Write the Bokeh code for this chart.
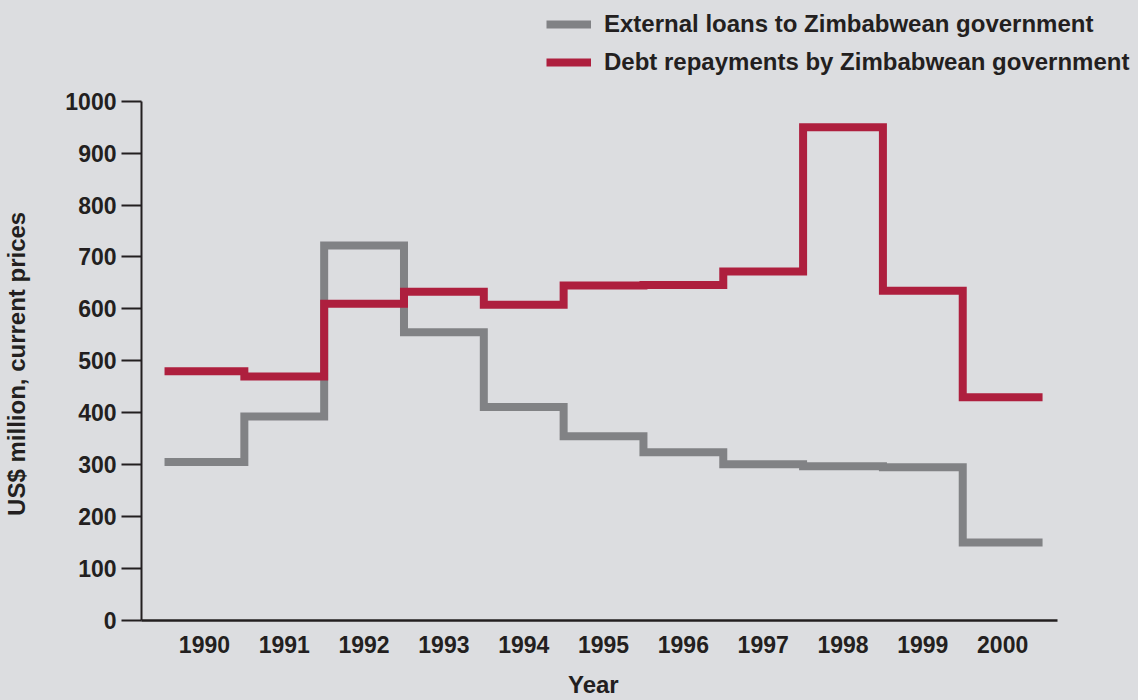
from bokeh.plotting import figure
from bokeh.models import Legend, LegendItem, FixedTicker, Range1d, BasicTickFormatter
from bokeh.embed import file_html
from bokeh.resources import INLINE

# ---- data ----
years = [1990, 1991, 1992, 1993, 1994, 1995, 1996, 1997, 1998, 1999, 2000]
loans = [305, 393, 722, 555, 411, 355, 324, 301, 297, 295, 150]
repayments = [480, 470, 610, 633, 608, 645, 646, 672, 950, 635, 430]
y_ticks = [0, 100, 200, 300, 400, 500, 600, 700, 800, 900, 1000]
series_labels = ["External loans to Zimbabwean government",
                 "Debt repayments by Zimbabwean government"]
y_title = "US$ million, current prices"
x_title = "Year"

BG = "#dcdde0"
INK = "#231f20"
GRAY = "#818285"
RED = "#ae1f3e"
FONT = "Liberation Sans"
FS = "23px"
FS_BIG = "24px"
NBSP = "\u00a0"

# frame spans the whole top/right of the figure so that the legend is not clipped;
# axes are limited to the data area with `bounds`
X_START, X_END_AXIS, X_END = 1989.2115, 2000.688, 2001.702
Y_END = 1000 * 622 / 521

p = figure(width=1138, height=700, output_backend="svg", toolbar_location=None,
           x_range=Range1d(X_START, X_END), y_range=Range1d(0, Y_END),
           min_border_left=140, min_border_right=0, min_border_top=0,
           min_border_bottom=78, background_fill_color=BG, border_fill_color=BG,
           outline_line_color=None)
p.grid.visible = False

# step edges: each year's value spans year-0.5 .. year+0.5
x_edges = [y - 0.5 for y in years] + [years[-1] + 0.5]
r_loans = p.step(x_edges, loans + [loans[-1]], mode="after", line_width=8,
                 line_color=GRAY, line_join="miter")
r_rep = p.step(x_edges, repayments + [repayments[-1]], mode="after", line_width=8,
               line_color=RED, line_join="miter")

legend = Legend(items=[LegendItem(label=series_labels[0], renderers=[r_loans]),
                       LegendItem(label=series_labels[1], renderers=[r_rep])],
                location=(405, 543), orientation="vertical",
                glyph_width=45, glyph_height=30, label_height=30,
                label_standoff=13, spacing=8, padding=0, margin=0,
                border_line_color=None, background_fill_alpha=0,
                label_text_font=FONT, label_text_font_style="bold",
                label_text_font_size=FS_BIG, label_text_color=INK)
p.add_layout(legend, "center")

for ax in (p.xaxis[0], p.yaxis[0]):
    ax.minor_tick_out = 0
    ax.minor_tick_in = 0
    ax.major_tick_in = 0
    ax.axis_line_color = INK
    ax.major_tick_line_color = INK
    ax.major_tick_line_width = 2
    ax.major_label_text_font = FONT
    ax.major_label_text_font_style = "bold"
    ax.major_label_text_font_size = FS
    ax.major_label_text_color = INK
    ax.axis_label_text_font = FONT
    ax.axis_label_text_font_style = "bold"
    ax.axis_label_text_font_size = FS_BIG
    ax.axis_label_text_color = INK
    ax.formatter = BasicTickFormatter(use_scientific=False)

yax = p.yaxis[0]
yax.ticker = FixedTicker(ticks=y_ticks)
yax.bounds = (0, 1000)
yax.major_tick_out = 20
yax.axis_line_width = 2
yax.major_label_standoff = 5
# axis titles are centred on the (extended) frame; trailing no-break spaces
# re-centre them on the data area
yax.axis_label = y_title + NBSP * 16
yax.axis_label_standoff = 32

xax = p.xaxis[0]
xax.ticker = FixedTicker(ticks=years)
xax.bounds = (X_START, X_END_AXIS)
xax.major_tick_out = 0
xax.axis_line_width = 2.5
xax.major_label_standoff = 15
xax.axis_label = x_title + NBSP * 14
xax.axis_label_standoff = 15

tmpl = """{% block preamble %}<style>html, body { background-color: #dcdde0; }</style>{% endblock %}"""
open("out.html", "w").write(file_html(p, INLINE, template=tmpl))
